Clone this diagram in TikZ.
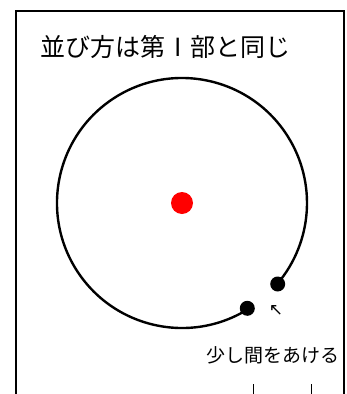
\documentclass[tikz,border=0pt]{standalone}
\usepackage{fontspec}
\newfontfamily\jpfont{Noto Sans CJK JP}
\newfontfamily\symfont{DejaVu Sans}
\begin{document}
\begin{tikzpicture}[x=1pt,y=-1pt,
  frameline/.style={line width=2.2pt,line cap=rect},
  orbit/.style={line width=2.4pt},
  bead/.style={circle,fill=black,inner sep=0pt,minimum size=15pt},
  core/.style={circle,fill=red,inner sep=0pt,minimum size=22pt},
  tick/.style={line width=1pt},
  lbl/.style={inner sep=0pt,font=\jpfont}]
\useasboundingbox (0,0) rectangle (347,394);
% frame, open at the bottom
\coordinate (fbl) at (16,394);
\coordinate (ftl) at (16,11);
\coordinate (ftr) at (344,11);
\coordinate (fbr) at (344,394);
\draw[frameline] (fbl) -- (ftl) -- (ftr) -- (fbr);
% title
\node[lbl,font=\jpfont\fontsize{25}{25}\selectfont,anchor=west] (title) at (40,47) {並び方は第\makebox[25pt]{I}部と同じ};
% orbit
\coordinate (c) at (182,203);
\draw[orbit] (c) ++(58:125) arc[start angle=58,end angle=400,radius=125];
\node[core] (nucleus) at (c) {};
\node[bead] (b1) at (277.7,284) {};
\node[bead] (b2) at (247.3,308.3) {};
\node[inner sep=0pt,font=\symfont\fontsize{17}{17}\selectfont] (arr) at (276,311) {↖};
% note
\node[lbl,font=\jpfont\fontsize{19}{19}\selectfont,anchor=east] (note) at (340,355) {少し間をあける};
% ticks at the bottom
\coordinate (t1a) at (253,384);
\coordinate (t1b) at (253,394);
\coordinate (t2a) at (311,384);
\coordinate (t2b) at (311,394);
\draw[tick] (t1a) -- (t1b);
\draw[tick] (t2a) -- (t2b);
\end{tikzpicture}
\end{document}
